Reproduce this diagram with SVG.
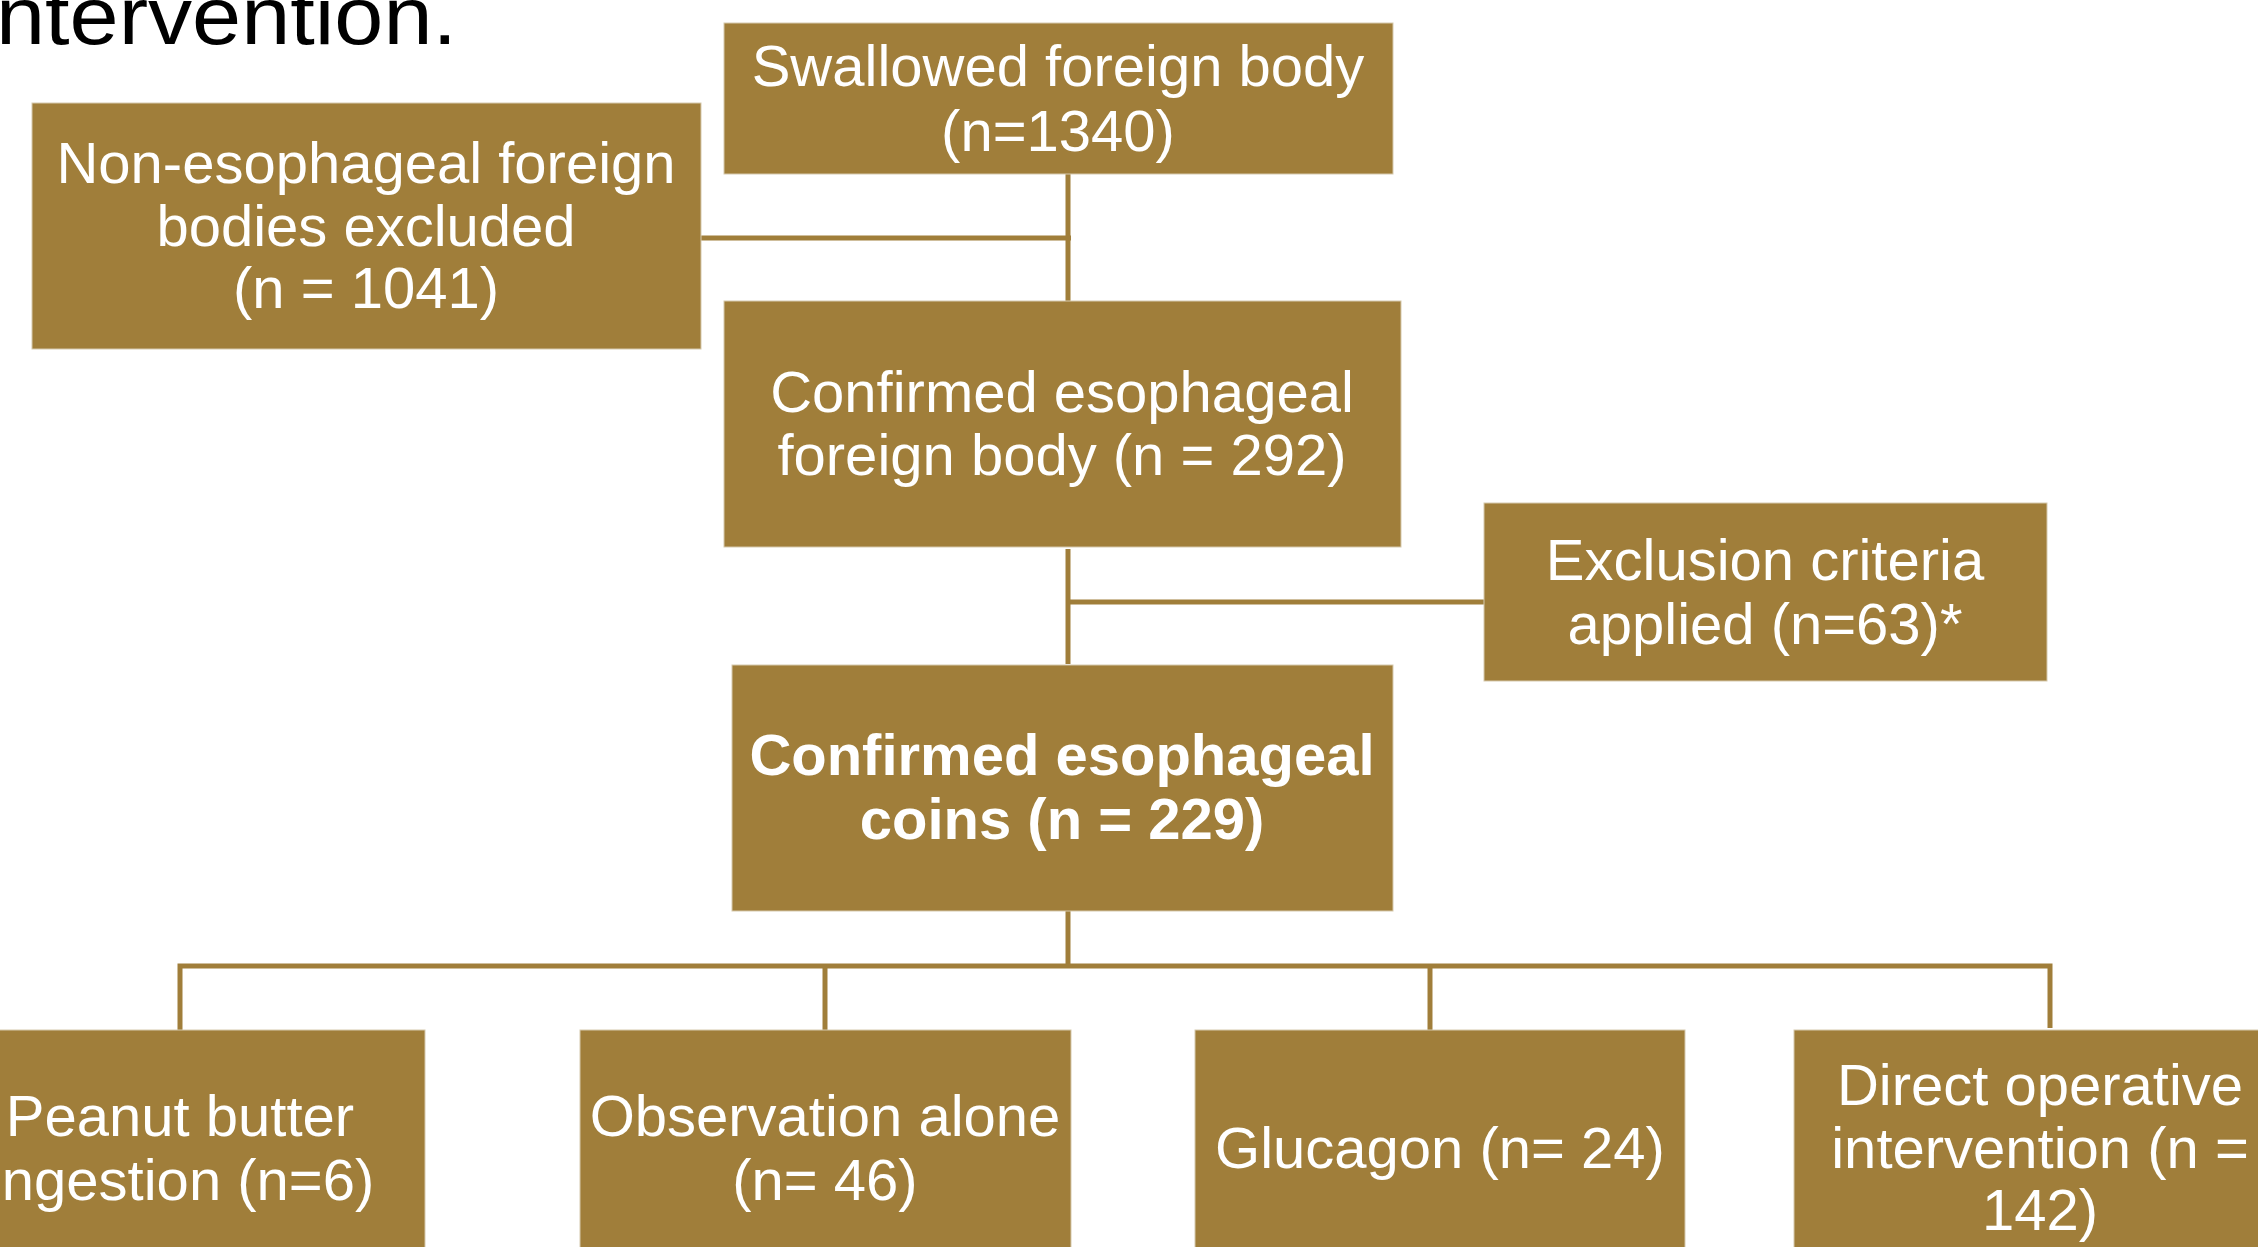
<svg xmlns="http://www.w3.org/2000/svg" width="2258" height="1247" viewBox="0 0 2258 1247">
<style>
  .box { fill: #A07E3A; stroke: #d6c9ad; stroke-width: 1; }
  .t { font-family: "Liberation Sans", Arial, sans-serif; font-size: 58px; fill: #ffffff; text-anchor: middle; }
  .b { font-weight: bold; }
  .conn { stroke: #A07E3A; stroke-width: 5; fill: none; }
  .title { font-family: "Liberation Sans", Arial, sans-serif; font-size: 82px; fill: #000000; }
</style>
<rect x="0" y="0" width="2258" height="1247" fill="#ffffff"/>
<text class="title" x="-4" y="44" textLength="461" lengthAdjust="spacingAndGlyphs">ntervention.</text>

<g id="connectors">
  <line class="conn" x1="1068" y1="174" x2="1068" y2="310"/>
  <line class="conn" x1="701" y1="238" x2="1071" y2="238"/>
  <line class="conn" x1="1068" y1="549" x2="1068" y2="664"/>
  <line class="conn" x1="1066" y1="602" x2="1484" y2="602"/>
  <line class="conn" x1="1068" y1="905" x2="1068" y2="966"/>
  <polyline class="conn" points="180,1030 180,966 2050,966 2050,1028"/>
  <line class="conn" x1="825" y1="966" x2="825" y2="1030"/>
  <line class="conn" x1="1430" y1="966" x2="1430" y2="1030"/>
</g>

<g id="node-swallowed">
  <rect class="box" x="724" y="23" width="669" height="151"/>
  <text class="t" x="1058" y="86">Swallowed foreign body</text>
  <text class="t" x="1058" y="151">(n=1340)</text>
</g>

<g id="node-nonesophageal">
  <rect class="box" x="32" y="103" width="669" height="246"/>
  <text class="t" x="366" y="183">Non-esophageal foreign</text>
  <text class="t" x="366" y="246">bodies excluded</text>
  <text class="t" x="366" y="308">(n = 1041)</text>
</g>

<g id="node-confirmed-fb">
  <rect class="box" x="724" y="301" width="677" height="246"/>
  <text class="t" x="1062" y="412">Confirmed esophageal</text>
  <text class="t" x="1062" y="475">foreign body (n = 292)</text>
</g>

<g id="node-exclusion">
  <rect class="box" x="1484" y="503" width="563" height="178"/>
  <text class="t" x="1765" y="580">Exclusion criteria</text>
  <text class="t" x="1765" y="644">applied (n=63)*</text>
</g>

<g id="node-coins">
  <rect class="box" x="732" y="665" width="661" height="246"/>
  <text class="t b" x="1062" y="775">Confirmed esophageal</text>
  <text class="t b" x="1062" y="839">coins (n = 229)</text>
</g>

<g id="node-peanut">
  <rect class="box" x="-70" y="1030" width="495" height="230"/>
  <text class="t" x="180" y="1136">Peanut butter</text>
  <text class="t" x="180" y="1200">Ingestion (n=6)</text>
</g>

<g id="node-observation">
  <rect class="box" x="580" y="1030" width="491" height="230"/>
  <text class="t" x="825" y="1136">Observation alone</text>
  <text class="t" x="825" y="1200">(n= 46)</text>
</g>

<g id="node-glucagon">
  <rect class="box" x="1195" y="1030" width="490" height="230"/>
  <text class="t" x="1440" y="1168">Glucagon (n= 24)</text>
</g>

<g id="node-direct">
  <rect class="box" x="1794" y="1030" width="492" height="230"/>
  <text class="t" x="2040" y="1105">Direct operative</text>
  <text class="t" x="2040" y="1168">intervention (n =</text>
  <text class="t" x="2040" y="1230">142)</text>
</g>
</svg>
